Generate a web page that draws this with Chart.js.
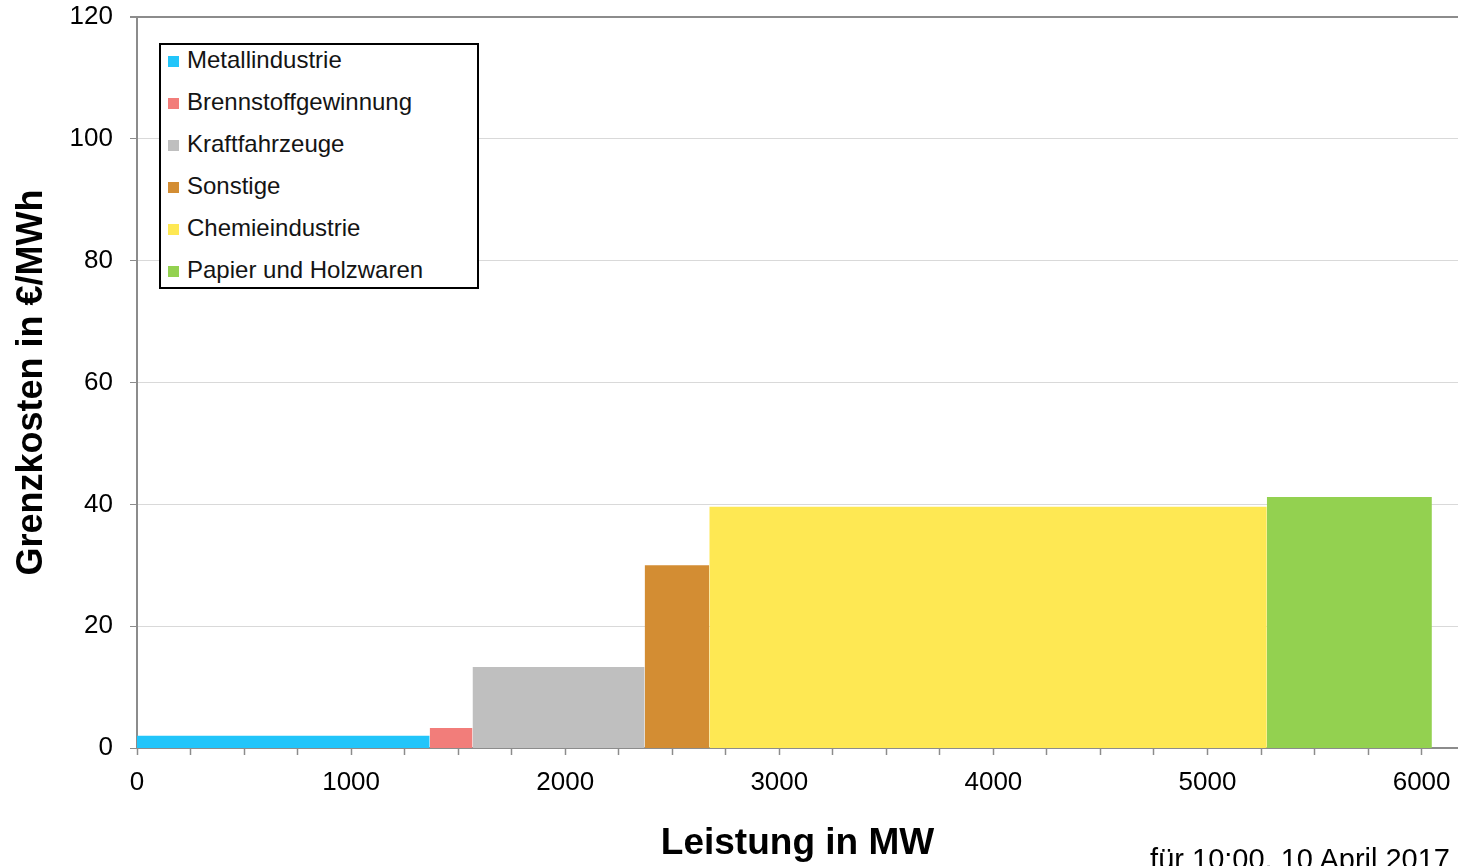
<!DOCTYPE html>
<html lang="de">
<head>
    <meta charset="UTF-8">
    <title>Grenzkosten Lastmanagement</title>
    <script src="https://cdn.jsdelivr.net/npm/chart.js"></script>
    <style>
        body {
            margin: 0;
            background: #fff;
            font-family: "Liberation Sans", Arial, sans-serif;
        }

        #wrap {
            position: relative;
            width: 1458px;
            height: 866px;
            overflow: hidden;
        }

        #legend {
            position: absolute;
            left: 159px;
            top: 43px;
            width: 316px;
            height: 242px;
            border: 2px solid #000;
            background: #fff;
            box-sizing: content-box;
        }

        .row {
            position: absolute;
            left: 7px;
            height: 30px;
            line-height: 30px;
            font-size: 24px;
            color: #141414;
            white-space: nowrap;
        }

        .row span {
            display: inline-block;
            width: 11px;
            height: 11px;
            margin-right: 8px;
            vertical-align: 1px;
        }

        #note {
            position: absolute;
            right: 8px;
            top: 843px;
            font-size: 29px;
            color: #000;
            white-space: nowrap;
        }
    </style>
</head>
<body>

<div id="wrap">
    <canvas id="myChart" width="1458" height="866"></canvas>
    <div id="legend"></div>
    <div id="note">für 10:00, 10 April 2017</div>
</div>

<script>
    // Sektoren in Reihenfolge der Merit-Order
    const categories = ['Metallindustrie', 'Brennstoffgewinnung', 'Kraftfahrzeuge', 'Sonstige', 'Chemieindustrie', 'Papier und Holzwaren'];
    // Leistung je Sektor in MW (Breite der Blöcke)
    const capacities = [1367, 200, 804, 302, 2604, 771];
    // Grenzkosten in €/MWh (Höhe der Blöcke)
    const costs = [2.0, 3.3, 13.3, 30.0, 39.6, 41.2];
    const colors = ['#22c5fa', '#f27d7a', '#bfbfbf', '#d38d33', '#fee853', '#93d150'];
    const yTicks = [0, 20, 40, 60, 80, 100, 120];

    // jeder Block als gefülltes Rechteck auf der linearen x-Achse
    let start = 0;
    const datasets = categories.map((name, i) => {
        const end = start + capacities[i];
        const ds = {
            label: name,
            data: [
                { x: start, y: 0 },
                { x: start, y: costs[i] },
                { x: end, y: costs[i] },
                { x: end, y: 0 }
            ],
            backgroundColor: colors[i],
            borderWidth: 0,
            pointRadius: 0,
            tension: 0,
            fill: 'origin'
        };
        start = end;
        return ds;
    });

    const axisGrey = '#8c8c8c';

    const config = {
        type: 'line',
        data: { datasets: datasets },
        options: {
            responsive: false,
            animation: false,
            events: [],
            layout: { padding: { top: 17, right: 0, left: 0, bottom: 0 } },
            plugins: {
                legend: { display: false },
                tooltip: { enabled: false }
            },
            scales: {
                x: {
                    type: 'linear',
                    min: 0,
                    max: 6170,
                    afterFit: (scale) => {
                        scale.height = 118;
                        scale.paddingLeft = 0;
                        scale.paddingRight = 0;
                    },
                    afterBuildTicks: (scale) => {
                        const t = [];
                        for (let v = 0; v <= 6000; v += 250) t.push({ value: v });
                        scale.ticks = t;
                    },
                    border: { color: axisGrey, width: 2 },
                    grid: {
                        drawOnChartArea: false,
                        drawTicks: true,
                        tickLength: 7,
                        tickColor: axisGrey,
                        tickWidth: 1.5
                    },
                    ticks: {
                        autoSkip: false,
                        maxRotation: 0,
                        padding: 12,
                        color: '#000',
                        font: { family: 'Liberation Sans', size: 26 },
                        callback: (v) => (v % 1000 === 0 ? String(v) : '')
                    },
                    title: {
                        display: true,
                        text: 'Leistung in MW',
                        color: '#000',
                        font: { family: 'Liberation Sans', size: 37, weight: 'bold' },
                        padding: { top: 0, bottom: 0 }
                    }
                },
                y: {
                    min: 0,
                    max: 120,
                    afterFit: (scale) => {
                        scale.width = 137;
                        scale.paddingTop = 0;
                        scale.paddingBottom = 0;
                    },
                    afterBuildTicks: (scale) => {
                        scale.ticks = yTicks.map(v => ({ value: v }));
                    },
                    border: { color: axisGrey, width: 2 },
                    grid: {
                        color: (ctx) => (ctx.tick && ctx.tick.value === 120 ? axisGrey : '#d9d9d9'),
                        lineWidth: (ctx) => (ctx.tick && ctx.tick.value === 120 ? 2 : 1),
                        tickLength: 7,
                        tickColor: axisGrey
                    },
                    ticks: {
                        padding: 17,
                        color: '#000',
                        font: { family: 'Liberation Sans', size: 26 }
                    },
                    title: {
                        display: true,
                        text: 'Grenzkosten in €/MWh',
                        color: '#000',
                        font: { family: 'Liberation Sans', size: 36, weight: 'bold' },
                        padding: { top: 10, bottom: 0 }
                    }
                }
            }
        }
    };

    const ctx = document.getElementById('myChart').getContext('2d');
    const myChart = new Chart(ctx, config);

    // Legende als Kasten oben links im Diagramm
    const legend = document.getElementById('legend');
    categories.forEach((name, i) => {
        const row = document.createElement('div');
        row.className = 'row';
        row.style.top = (0 + i * 42) + 'px';
        const sw = document.createElement('span');
        sw.style.background = colors[i];
        row.appendChild(sw);
        row.appendChild(document.createTextNode(name));
        legend.appendChild(row);
    });
</script>

</body>
</html>
